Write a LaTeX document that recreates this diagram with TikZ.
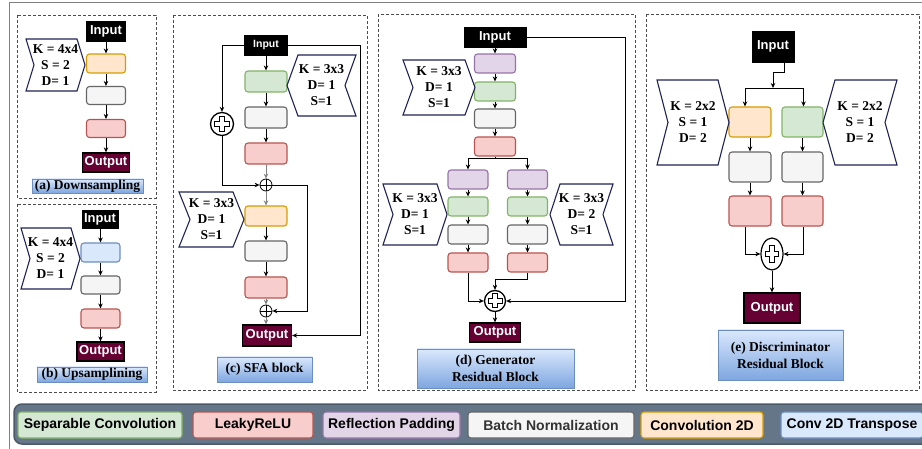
\documentclass[tikz,border=0pt]{standalone}
\usepackage{fontspec}
\setmainfont{Liberation Serif}
\newfontfamily\sansb{Liberation Sans}
\usetikzlibrary{arrows.meta,shapes.geometric,calc}
\definecolor{gF}{HTML}{D5E8D4}\definecolor{gD}{HTML}{82B366}
\definecolor{rF}{HTML}{F8CECC}\definecolor{rD}{HTML}{B85450}
\definecolor{pF}{HTML}{E1D5E7}\definecolor{pD}{HTML}{9673A6}
\definecolor{nF}{HTML}{F5F5F5}\definecolor{nD}{HTML}{666666}
\definecolor{oF}{HTML}{FFE6CC}\definecolor{oD}{HTML}{D79B00}
\definecolor{bF}{HTML}{DAE8FC}\definecolor{bD}{HTML}{6C8EBF}
\definecolor{outc}{HTML}{660033}
\definecolor{lblT}{HTML}{DAE8FC}\definecolor{lblB}{HTML}{7EA6E0}
\definecolor{chevc}{HTML}{1F2357}
\definecolor{legbg}{HTML}{647687}\definecolor{legD}{HTML}{4B5A68}
\definecolor{framec}{HTML}{808080}
\definecolor{bntext}{HTML}{333333}
\newcommand{\chevR}[7]{%
 \draw[chev] (#2,#3) -- ({#4-#6},#3) -- (#4,{(#3+#5)/2}) -- ({#4-#6},#5) -- (#2,#5) -- ({#2+#6},{(#3+#5)/2}) -- cycle;
 \node[chevtext] (#1) at ({(#2+#4)/2},{(#3+#5)/2}) {#7};}
\newcommand{\chevL}[7]{%
 \draw[chev] ({#2+#6},#3) -- (#4,#3) -- ({#4-#6},{(#3+#5)/2}) -- (#4,#5) -- ({#2+#6},#5) -- (#2,{(#3+#5)/2}) -- cycle;
 \node[chevtext] (#1) at ({(#2+#4)/2},{(#3+#5)/2}) {#7};}
\newcommand{\hcross}[4]{%
 \begin{scope}[shift={(#1.center)}]
 \draw[line width=1pt] (-#4,-#3) -- (#4,-#3) -- (#4,-#4) -- (#2,-#4) -- (#2,#4) -- (#4,#4) -- (#4,#3) -- (-#4,#3) -- (-#4,#4) -- (-#2,#4) -- (-#2,-#4) -- (-#4,-#4) -- cycle;
 \end{scope}}
\newcommand{\opl}[1]{\draw[line width=0.8pt] (#1.north) -- (#1.south) (#1.west) -- (#1.east);}
\begin{document}
\begin{tikzpicture}[x=1pt,y=-1pt,
 blk/.style={draw=black, inner sep=0pt, font=\sansb\bfseries\fontsize{13}{15}\selectfont, text=white},
 inp/.style={blk, fill=black},
 outp/.style={blk, fill=outc, line width=1.3pt},
 lay/.style={draw, rounded corners=3pt, line width=1.1pt, inner sep=0pt},
 sepconv/.style={lay, fill=gF, draw=gD},
 lrelu/.style={lay, fill=rF, draw=rD},
 refpad/.style={lay, fill=pF, draw=pD},
 bnorm/.style={lay, fill=nF, draw=nD},
 conv2d/.style={lay, fill=oF, draw=oD},
 convT/.style={lay, fill=bF, draw=bD},
 arr/.style={-{Stealth[length=5pt,width=4.5pt]}, line width=0.8pt},
 garr/.style={arr, draw=gray},
 lbl/.style={draw=bD, top color=lblT, bottom color=lblB, inner sep=0pt, font=\bfseries\fontsize{13.5}{17}\selectfont, align=center},
 panel/.style={draw=black!70, dash pattern=on 3pt off 2pt, line width=0.9pt},
 chev/.style={draw=chevc, fill=white, line width=1.1pt, line join=miter},
 chevtext/.style={font=\bfseries\fontsize{13.5}{16}\selectfont, align=center, inner sep=0pt},
 leg/.style={lay, font=\sansb\bfseries\fontsize{14}{16}\selectfont, minimum height=26pt, line width=1.4pt, rounded corners=4pt},
 plus/.style={circle, draw, line width=1.3pt, inner sep=0pt, fill=white},
 oplusn/.style={circle, draw, line width=0.8pt, inner sep=0pt, minimum size=12pt}
]
\useasboundingbox (0,0) rectangle (922,449);
\draw[framec, line width=1pt] (925,3) -- (9,3) -- (9,452);

% ---------- (a) ----------
\draw[panel] (17,15) rectangle (156,198);
\node[inp, minimum width=39pt, minimum height=20pt] (ain) at (106,31) {Input};
\node[conv2d, minimum width=39pt, minimum height=19pt] (ac) at (106,63.5) {};
\node[bnorm, minimum width=39pt, minimum height=18pt] (ab) at (106,95.5) {};
\node[lrelu, minimum width=39pt, minimum height=18pt] (ar) at (106,128.5) {};
\node[outp, minimum width=47pt, minimum height=19pt] (aout) at (106,162.5) {Output};
\node[lbl, minimum width=111pt, minimum height=14pt] (albl) at (87.5,186) {(a) Downsampling};
\chevR{ach}{26}{39}{85}{91}{8}{K = 4x4\\S = 2\\D= 1}
\draw[arr] (ain) -- (ac);
\draw[arr] (ac) -- (ab);
\draw[arr] (ab) -- (ar);
\draw[arr] (ar) -- (aout);

% ---------- (b) ----------
\draw[panel] (17,204) rectangle (156,392);
\node[inp, minimum width=36pt, minimum height=18pt] (bin) at (100,219) {Input};
\node[convT, minimum width=39pt, minimum height=19pt] (bc) at (100.5,252.5) {};
\node[bnorm, minimum width=39pt, minimum height=18pt] (bb) at (100.5,285) {};
\node[lrelu, minimum width=39pt, minimum height=19pt] (br) at (100.5,318.5) {};
\node[outp, minimum width=47pt, minimum height=19pt] (bout) at (100.5,351.5) {Output};
\node[lbl, minimum width=110pt, minimum height=15pt] (blbl) at (92,374.5) {(b) Upsamplining};
\chevR{bch}{21}{228}{80}{289}{9}{K = 4x4\\S = 2\\D= 1}
\draw[arr] (bin.south -| bc.north) -- (bc);
\draw[arr] (bc) -- (bb);
\draw[arr] (bb) -- (br);
\draw[arr] (br) -- (bout);

% ---------- (c) ----------
\draw[panel] (173,15) rectangle (367,390);
\node[inp, minimum width=43pt, minimum height=20pt, font=\sansb\bfseries\fontsize{10.5}{12}\selectfont] (cin) at (266,45) {Input};
\node[sepconv, minimum width=42pt, minimum height=21pt] (cg) at (266,81.5) {};
\node[bnorm, minimum width=42pt, minimum height=21pt] (cb) at (266,117.5) {};
\node[lrelu, minimum width=42pt, minimum height=21pt] (cr) at (266,153.5) {};
\node[oplusn] (cop1) at (266,185) {};
\opl{cop1}
\node[conv2d, minimum width=42pt, minimum height=20pt] (co) at (266,216) {};
\node[bnorm, minimum width=42pt, minimum height=20pt] (cb2) at (266,251) {};
\node[lrelu, minimum width=42pt, minimum height=21pt] (cr2) at (266,287.5) {};
\node[oplusn] (cop2) at (266,311) {};
\opl{cop2}
\node[outp, minimum width=49pt, minimum height=21pt] (cout) at (267,335.5) {Output};
\node[lbl, minimum width=95pt, minimum height=25pt] (clbl) at (264.5,369.5) {(c) SFA block};
\node[plus, minimum size=23pt] (cplus) at (222,124) {};
\hcross{cplus}{7.5}{7.5}{2.6}
\chevL{cch1}{287}{55}{356}{116}{11}{K = 3x3\\D= 1\\S=1}
\chevR{cch2}{179}{192}{244}{247}{11}{K = 3x3\\D= 1\\S=1}
\coordinate (cR1) at (360,0);
\coordinate (cR2) at (307,0);
\draw[arr] (cin.west) -| (cplus.north);
\draw[arr] (cplus.south) |- (cop1.west);
\draw[arr] (cin.east) -- (cin.east -| cR1) |- (cout.east);
\draw[arr] (cop1.east) -- (cop1.east -| cR2) |- (cop2.east);
\draw[arr] (cin) -- (cg);
\draw[arr] (cg) -- (cb);
\draw[arr] (cb) -- (cr);
\draw[garr] (cr) -- (cop1);
\draw[garr] (cop1) -- (co);
\draw[arr] (co) -- (cb2);
\draw[arr] (cb2) -- (cr2);
\draw[garr] (cr2) -- (cop2);
\draw[garr] (cop2) -- (cop2 |- cout.north);

% ---------- (d) ----------
\draw[panel] (378,14) rectangle (635,390);
\node[inp, minimum width=62pt, minimum height=20pt] (din) at (495,37) {Input};
\node[refpad, minimum width=41pt, minimum height=19pt] (dp) at (495,63.5) {};
\node[sepconv, minimum width=41pt, minimum height=19pt] (dg) at (495,91.5) {};
\node[bnorm, minimum width=41pt, minimum height=19pt] (db) at (495,118.5) {};
\node[lrelu, minimum width=41pt, minimum height=19pt] (dr) at (495,146.5) {};
\coordinate (dsp) at (495,158);
\node[refpad, minimum width=40pt, minimum height=19pt] (dpL) at (468,179.5) {};
\node[refpad, minimum width=40pt, minimum height=19pt] (dpR) at (527.5,179.5) {};
\node[sepconv, minimum width=40pt, minimum height=19pt] (dgL) at (468,206.5) {};
\node[sepconv, minimum width=40pt, minimum height=19pt] (dgR) at (527.5,206.5) {};
\node[bnorm, minimum width=40pt, minimum height=19pt] (dbL) at (468,234.5) {};
\node[bnorm, minimum width=40pt, minimum height=19pt] (dbR) at (527.5,234.5) {};
\node[lrelu, minimum width=40pt, minimum height=19pt] (drL) at (468,262.5) {};
\node[lrelu, minimum width=40pt, minimum height=19pt] (drR) at (527.5,262.5) {};
\node[plus, minimum size=21pt] (dplus) at (495,301) {};
\hcross{dplus}{7}{7}{2.5}
\node[outp, minimum width=51pt, minimum height=19pt] (dout) at (495,332.5) {Output};
\node[lbl, minimum width=157pt, minimum height=39pt] (dlbl) at (495.5,368.5) {(d) Generator\\Residual Block};
\chevR{dch1}{403}{60}{475}{115}{10}{K = 3x3\\D= 1\\S=1}
\chevR{dch2}{383}{184}{447}{245}{10}{K = 3x3\\D= 1\\S=1}
\chevL{dch3}{550}{184}{613}{245}{10}{K = 3x3\\D= 2\\S=1}
\coordinate (dRc) at (625,0);
\coordinate (dj) at (0,279);
\draw[arr] (din) -- (dp);
\draw[arr] (dp) -- (dg);
\draw[arr] (dg) -- (db);
\draw[arr] (db) -- (dr);
\draw[line width=0.8pt] (dr.south) -- (dsp);
\draw[arr] (dsp) -| (dpL.north);
\draw[arr] (dsp) -| (dpR.north);
\draw[arr] (dpL) -- (dgL);
\draw[arr] (dgL) -- (dbL);
\draw[arr] (dbL) -- (drL);
\draw[arr] (dpR) -- (dgR);
\draw[arr] (dgR) -- (dbR);
\draw[arr] (dbR) -- (drR);
\draw[arr] (drL.south) |- (dplus.west);
\draw[arr] (drR.south) -- (drR.south |- dj) -| (dplus.north);
\draw[arr] (din.east) -- (din.east -| dRc) |- (dplus.east);
\draw[arr] (dplus) -- (dout);

% ---------- (e) ----------
\draw[panel] (646,14) rectangle (919,390);
\node[inp, minimum width=42pt, minimum height=31pt] (ein) at (773,46.5) {Input};
\node[conv2d, minimum width=42pt, minimum height=30pt] (eo) at (750,122) {};
\node[sepconv, minimum width=41pt, minimum height=30pt] (eg) at (802.5,122) {};
\node[bnorm, minimum width=42pt, minimum height=30pt] (ebL) at (750,167) {};
\node[bnorm, minimum width=41pt, minimum height=30pt] (ebR) at (802.5,167) {};
\node[lrelu, minimum width=42pt, minimum height=30pt] (erL) at (750,211) {};
\node[lrelu, minimum width=41pt, minimum height=30pt] (erR) at (802.5,211) {};
\node[ellipse, draw, line width=1.2pt, fill=white, inner sep=0pt, minimum width=22pt, minimum height=32pt] (eplus) at (772,254) {};
\hcross{eplus}{6.5}{8.5}{2.5}
\node[outp, minimum width=56pt, minimum height=30pt] (eout) at (772,308) {Output};
\node[lbl, minimum width=125pt, minimum height=50pt] (elbl) at (780.5,355) {(e) Discriminator\\Residual Block};
\chevR{ech1}{657}{80}{729}{165}{11}{K = 2x2\\S = 1\\D= 2}
\chevL{ech2}{823}{80}{897}{165}{12}{K = 2x2\\S = 1\\D= 2}
\coordinate (ea) at (784,72);
\coordinate (es) at (773,88);
\draw[arr] ($(ein.south)+(11,0)$) -- (ea) -| (es);
\draw[arr] (es) -| ($(eo.north)+(-5,0)$);
\draw[arr] (es) -| ($(eg.north)+(1,0)$);
\draw[arr] (eo) -- (ebL);
\draw[arr] (ebL) -- (erL);
\draw[arr] (eg) -- (ebR);
\draw[arr] (ebR) -- (erR);
\draw[arr] ($(erL.south)+(-5,0)$) |- (eplus.west);
\draw[arr] ($(erR.south)+(1,0)$) |- (eplus.east);
\draw[arr] (eplus) -- (eout);

% ---------- legend ----------
\draw[fill=legbg, draw=legD, line width=1.5pt, rounded corners=8pt] (14,404) rectangle (945,444);
\node[leg, sepconv, minimum width=164pt] (l1) at (100,425) {Separable Convolution};
\node[leg, lrelu, minimum width=120pt] (l2) at (253,425) {LeakyReLU};
\node[leg, refpad, minimum width=137pt] (l3) at (391.5,425) {Reflection Padding};
\node[leg, bnorm, minimum width=166pt, text=bntext] (l4) at (551,425) {Batch Normalization};
\node[leg, conv2d, minimum width=122pt] (l5) at (702,425) {Convolution 2D};
\node[leg, convT, minimum width=142pt] (l6) at (852,425) {Conv 2D Transpose};
\end{tikzpicture}
\end{document}
